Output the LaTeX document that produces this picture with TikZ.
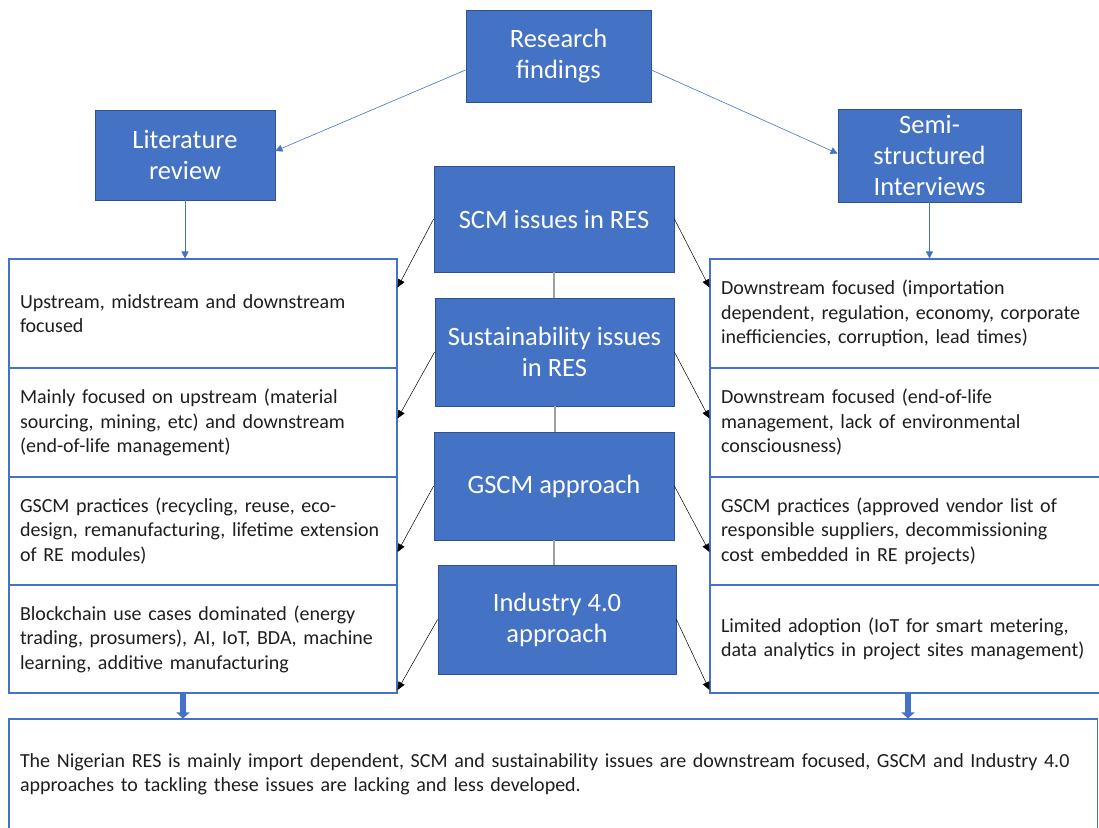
\documentclass[tikz,border=0pt]{standalone}
\usepackage{fontspec}
\setmainfont{Carlito}
\usepackage{tikz}
\usetikzlibrary{arrows.meta}
\definecolor{boxblue}{RGB}{68,114,196}
\definecolor{edgeblue}{RGB}{47,82,143}
\definecolor{linegray}{RGB}{160,160,160}
\definecolor{textgray}{RGB}{30,30,30}
\tikzstyle{bluebox}=[fill=boxblue,draw=edgeblue,line width=0.8,text=white,align=center,inner sep=0pt,font=\fontsize{26.5}{31}\selectfont]
\tikzstyle{whitebox}=[draw=boxblue,line width=1.1,text=textgray,align=left,inner xsep=11pt,inner ysep=0pt,font=\fontsize{20}{24.5}\selectfont]
\tikzstyle{bluearrow}=[-{Triangle[length=7pt,width=7pt]},draw=boxblue,line width=0.6]
\tikzstyle{arrow}=[-{Triangle[length=8pt,width=7pt]},draw=black,line width=0.5]
\tikzstyle{simple}=[-,draw=linegray,line width=2]
\tikzstyle{thick}=[-{Triangle[length=6pt,width=13pt]},draw=boxblue,fill=boxblue,line width=5.5]

\begin{document}
\begin{tikzpicture}[x=1pt,y=-1pt]
  \useasboundingbox (0,0) rectangle (1099,827);
  \node [style=bluebox, minimum width=185pt, minimum height=92pt] (0) at (558.5, 56) {Research\\findings};
  \node [style=bluebox, minimum width=180pt, minimum height=90pt] (1) at (185, 155) {Literature\\review};
  \node [style=bluebox, minimum width=183pt, minimum height=93pt] (2) at (929.5, 155.5) {Semi-\\structured\\Interviews};
  \node [style=bluebox, minimum width=240pt, minimum height=106pt] (3) at (554, 219) {SCM issues in RES};
  \node [style=bluebox, minimum width=239pt, minimum height=108pt] (4) at (554.5, 352) {Sustainability issues\\in RES};
  \node [style=bluebox, minimum width=240pt, minimum height=108pt] (5) at (554, 486) {GSCM approach};
  \node [style=bluebox, minimum width=238pt, minimum height=109pt] (6) at (557, 619.5) {Industry 4.0\\approach};
  \node [style=whitebox, text width=366pt, minimum height=109pt] (7) at (203, 313.5) {Upstream, midstream and downstream\\focused};
  \node [style=whitebox, text width=366pt, minimum height=109pt] (8) at (203, 422.5) {Mainly focused on upstream (material\\sourcing, mining, etc) and downstream\\(end-of-life management)};
  \node [style=whitebox, text width=366pt, minimum height=108pt] (9) at (203, 531) {GSCM practices (recycling, reuse, eco-\\design, remanufacturing, lifetime extension\\of RE modules)};
  \node [style=whitebox, text width=366pt, minimum height=108pt] (10) at (203, 639) {Blockchain use cases dominated (energy\\trading, prosumers), AI, IoT, BDA, machine\\learning, additive manufacturing};
  \node [style=whitebox, text width=370pt, minimum height=109pt] (11) at (906, 313.5) {Downstream focused (importation\\dependent, regulation, economy, corporate\\inefficiencies, corruption, lead times)};
  \node [style=whitebox, text width=370pt, minimum height=109pt] (12) at (906, 422.5) {Downstream focused (end-of-life\\management, lack of environmental\\consciousness)};
  \node [style=whitebox, text width=370pt, minimum height=108pt] (13) at (906, 531) {GSCM practices (approved vendor list of\\responsible suppliers, decommissioning\\cost embedded in RE projects)};
  \node [style=whitebox, text width=370pt, minimum height=108pt] (14) at (906, 639) {Limited adoption (IoT for smart metering,\\data analytics in project sites management)};
  \node [style=whitebox, text width=1066.5pt, minimum height=111pt] (15) at (553.25, 774.5) {The Nigerian RES is mainly import dependent, SCM and sustainability issues are downstream focused, GSCM and Industry 4.0\\approaches to tackling these issues are lacking and less developed.};
  \draw [style=bluearrow] ([yshift=-14pt]0.west) to ([yshift=4pt]1.east);
  \draw [style=bluearrow] ([yshift=-14pt]0.east) to ([yshift=2pt]2.west);
  \draw [style=bluearrow] (1.south) to (1.south |- 7.north);
  \draw [style=bluearrow] (2.south) to (2.south |- 11.north);
  \draw [style=simple] (3.south) to (3.south |- 4.north);
  \draw [style=simple] (4.south) to (4.south |- 5.north);
  \draw [style=simple] (5.south) to (5.south |- 6.north);
  \draw [style=arrow] (3.west) to ([yshift=26pt]7.east);
  \draw [style=arrow] (3.east) to ([yshift=26pt]11.west);
  \draw [style=arrow] (4.west) to ([yshift=4pt]8.east);
  \draw [style=arrow] (4.east) to ([yshift=4pt]12.west);
  \draw [style=arrow] (5.west) to ([yshift=-21pt]9.east);
  \draw [style=arrow] (5.east) to ([yshift=-21pt]13.west);
  \draw [style=arrow] (6.west) to ([yshift=-51pt]10.east);
  \draw [style=arrow] (6.east) to ([yshift=-51pt]14.west);
  \draw [style=thick] ([xshift=-20pt]10.south) to ([xshift=-20pt]10.south |- 15.north);
  \draw [style=thick] ([xshift=2pt]14.south) to ([xshift=2pt]14.south |- 15.north);
\end{tikzpicture}
\end{document}
